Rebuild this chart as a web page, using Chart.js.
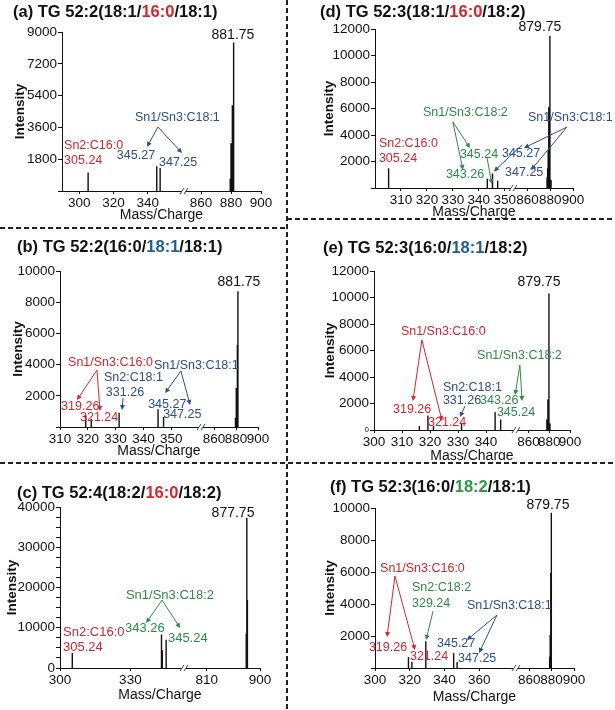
<!DOCTYPE html>
<html>
<head>
<meta charset="utf-8">
<script src="https://cdn.jsdelivr.net/npm/chart.js@4.4.0/dist/chart.umd.min.js"></script>
<style>
  body { margin: 0; background: #fff; width: 615px; height: 710px; position: relative; overflow: hidden;
         font-family: "Liberation Sans", Arial, sans-serif; }
  canvas { position: absolute; }
  .ttl { position: absolute; font-weight: bold; font-size: 16.5px; line-height: 20px; white-space: nowrap; color: #111; }
  .red { color: #e0202a; } .blue { color: #1f5a9e; } .green { color: #2a9a3c; }
</style>
</head>
<body>
<canvas id="sep" width="615" height="710" style="left:0;top:0"></canvas>
<canvas id="cA"></canvas><canvas id="cD"></canvas>
<canvas id="cB"></canvas><canvas id="cE"></canvas>
<canvas id="cC"></canvas><canvas id="cF"></canvas>
<div class="ttl" style="left:13px;top:1px">(a) TG 52:2(18:1/<span class="red">16:0</span>/18:1)</div>
<div class="ttl" style="left:320px;top:1px">(d) TG 52:3(18:1/<span class="red">16:0</span>/18:2)</div>
<div class="ttl" style="left:17px;top:236px">(b) TG 52:2(16:0/<span class="blue">18:1</span>/18:1)</div>
<div class="ttl" style="left:323px;top:237px">(e) TG 52:3(16:0/<span class="blue">18:1</span>/18:2)</div>
<div class="ttl" style="left:17px;top:482px">(c) TG 52:4(18:2/<span class="red">16:0</span>/18:2)</div>
<div class="ttl" style="left:330px;top:476px">(f) TG 52:3(16:0/<span class="green">18:2</span>/18:1)</div>
<script>
const FONT = '"Liberation Sans", Arial, sans-serif';
const R = '#d9232d', B = '#2c4f8f', G = '#2e8b45', K = '#111';

// peaks (m/z, intensity) and x tick labels
const mzA = [305.24, 345.27, 347.25, 879.5, 880.0, 880.9, 881.75];
const intA = [1050, 1400, 1300, 700, 2700, 4850, 8400];
const ticksA = [300, 320, 340, 860, 880, 900];

const mzD = [305.24, 343.26, 345.24, 345.27, 347.25, 877.25, 877.75, 878.25, 878.75, 879.75, 880.75];
const intD = [1500, 700, 1100, 1000, 550, 800, 1500, 2800, 6100, 11500, 600];
const ticksD = [310, 320, 330, 340, 350, 860, 880, 900];

const mzB = [319.26, 321.24, 331.26, 345.27, 347.25, 879.5, 880.25, 881.25, 881.75];
const intB = [750, 530, 920, 1130, 640, 600, 2500, 5260, 8700];
const ticksB = [310, 320, 330, 340, 350, 860, 880, 900];

const mzE = [316.2, 319.26, 321.24, 331.26, 343.26, 345.24, 877.75, 878.75, 879.25, 879.75, 880.75];
const intE = [300, 1100, 300, 450, 1360, 800, 800, 2300, 2000, 10300, 500];
const ticksE = [300, 310, 320, 330, 340, 860, 880, 900];

const mzC = [305.24, 343.26, 343.6, 345.24, 876.75, 877.75, 878.75];
const intC = [3700, 8300, 4400, 7000, 8500, 37300, 16900];
const ticksC = [300, 330, 810, 900];

const mzF = [319.26, 321.24, 329.24, 345.27, 347.25, 878.25, 878.75, 879.25, 879.75];
const intF = [690, 375, 1670, 940, 375, 700, 2060, 5940, 9700];
const ticksF = [300, 320, 340, 360, 860, 880, 900];

// annotations: [text, m/z, intensity, colour, mode]
const notesA = [['Sn2:C16:0', 291.2, 2600, R], ['305.24', 291.2, 1700, R], ['Sn1/Sn3:C18:1', 332.6, 4130, B],
  ['345.27', 322, 1980, B], ['347.25', 346.6, 1585, B], ['881.75', 881.3, 8830, K, 'c']];
const arrowsA = [[346, 3620, 339.6, 2500, B], [346, 3620, 360, 2150, B]];

const notesD = [['Sn2:C16:0', 301.5, 3320, R], ['305.24', 301.5, 2190, R], ['Sn1/Sn3:C18:2', 318.5, 5660, G],
  ['345.24', 332.7, 2490, G], ['343.26', 327.3, 980, G], ['345.27', 348.9, 2570, B], ['347.25', 350.1, 1130, B],
  ['Sn1/Sn3:C18:1', 860.5, 5285, B], ['879.75', 871, 12150, K, 'c']];
const arrowsD = [[330, 4980, 336.6, 3020, G], [330, 4980, 333.9, 1360, G], [343.1, 2340, 345.0, 300, G],
  [356.6, 3250, 345.8, 1250, B], [894.7, 4600, 857, 3020, B], [894.7, 4600, 863.2, 1360, B]];

const notesB = [['Sn1/Sn3:C16:0', 312.9, 4100, R], ['319.26', 310.4, 1280, R], ['321.24', 317.2, 580, R],
  ['Sn2:C18:1', 325.8, 3200, B], ['331.26', 326.5, 2240, B], ['Sn1/Sn3:C18:1', 343.8, 3970, B],
  ['345.27', 341.7, 1470, B], ['347.25', 347.1, 770, B], ['881.75', 882.7, 9300, K, 'c']];
const arrowsB = [[323.3, 3650, 316.1, 1730, R], [323.3, 3650, 324.4, 1030, R], [332.7, 1860, 332.3, 1090, B],
  [353.5, 3590, 347.8, 2180, B], [353.5, 3590, 356.8, 1410, B]];

const notesE = [['Sn1/Sn3:C16:0', 309.6, 7400, R], ['319.26', 306.8, 1510, R], ['321.24', 319.3, 600, R],
  ['Sn2:C18:1', 324.6, 3170, B], ['331.26', 324.6, 2190, B], ['Sn1/Sn3:C18:2', 336.8, 5590, G],
  ['343.26', 337.9, 2190, G], ['345.24', 343.9, 1280, G], ['879.75', 870.2, 11170, K, 'c']];
const arrowsE = [[317.1, 6800, 313.9, 2190, R], [317.1, 6800, 324.3, 680, R], [332.5, 1810, 330.7, 980, B],
  [352.1, 4900, 350.4, 2640, G], [352.1, 4900, 352.9, 2190, G]];

const notesC = [['Sn2:C16:0', 301.3, 8940, R], ['305.24', 301.3, 5220, R], ['Sn1/Sn3:C18:2', 328.1, 18130, G],
  ['343.26', 327.7, 9935, G], ['345.24', 346, 7450, G], ['877.75', 854.4, 38500, K, 'c']];
const arrowsC = [[343.5, 16890, 336.7, 11180, G], [343.5, 16890, 351.2, 9935, G]];

const notesF = [['Sn1/Sn3:C16:0', 302.9, 6190, R], ['319.26', 296.5, 1250, R], ['321.24', 320.1, 690, R],
  ['Sn2:C18:2', 321.3, 5000, G], ['329.24', 321.3, 4000, G], ['Sn1/Sn3:C18:1', 352.9, 3875, B],
  ['345.27', 335.7, 1500, B], ['347.25', 347.8, 560, B], ['879.75', 876.8, 10190, K, 'c']];
const arrowsF = [[311.5, 5750, 306.9, 1940, R], [311.5, 5750, 323, 1125, R], [333.4, 3560, 329.4, 1750, G],
  [370.2, 3310, 352.9, 1750, B], [370.2, 3310, 359.9, 940, B]];

// layout of each panel: canvas box [left, top, w, h], plot area [l, t, r, b], broken-axis segments [min, max, width]
const panels = [
  { id: 'cA', box: [0, 16, 287, 212], area: [62, 32, 261, 191], yTitleX: 20, xTitleY: 215,
    segs: [[290, 360, 120], [850, 900, 75]], gap: 4, mz: mzA, int: intA, ticks: ticksA,
    ymax: 9000, ystep: 1800, notes: notesA, arrows: arrowsA },
  { id: 'cD', box: [288, 16, 327, 210], area: [375, 29, 573, 188], yTitleX: 329, xTitleY: 212,
    segs: [[300, 352, 135], [850, 900, 57]], gap: 6, mz: mzD, int: intD, ticks: ticksD,
    ymax: 12000, ystep: 2000, notes: notesD, arrows: arrowsD },
  { id: 'cB', box: [0, 232, 287, 228], area: [60, 271, 258, 427], yTitleX: 18, xTitleY: 451,
    segs: [[310, 360, 139], [850, 900, 55]], gap: 4, mz: mzB, int: intB, ticks: ticksB,
    ymax: 10000, ystep: 2000, notes: notesB, arrows: arrowsB },
  { id: 'cE', box: [288, 232, 327, 228], area: [374, 271, 570, 430], yTitleX: 330, xTitleY: 456,
    segs: [[300, 350, 140], [850, 900, 52]], gap: 4, mz: mzE, int: intE, ticks: ticksE,
    ymax: 12000, ystep: 2000, zero: 'small', notes: notesE, arrows: arrowsE },
  { id: 'cC', box: [0, 467, 287, 243], area: [60, 507, 260, 668], yTitleX: 12, xTitleY: 695,
    segs: [[300, 352, 122], [775, 900, 74]], gap: 4, mz: mzC, int: intC, ticks: ticksC,
    ymax: 40000, ystep: 2500, ylabelEvery: 10000, zero: 'normal', noteSize: 13, notes: notesC, arrows: arrowsC },
  { id: 'cF', box: [288, 467, 327, 243], area: [375, 508, 574, 668], yTitleX: 330, xTitleY: 697,
    segs: [[300, 380, 139], [850, 900, 56]], gap: 4, mz: mzF, int: intF, ticks: ticksF,
    ymax: 10000, ystep: 2000, notes: notesF, arrows: arrowsF }
];

// dotted separators between panels
const sep = document.getElementById('sep').getContext('2d');
sep.strokeStyle = '#222';
sep.lineWidth = 2;
sep.setLineDash([5, 3]);
[[287, 0, 287, 710], [0, 228, 287, 228], [287, 219, 615, 219], [0, 463, 615, 463]].forEach(([x1, y1, x2, y2]) => {
  sep.beginPath(); sep.moveTo(x1, y1); sep.lineTo(x2, y2); sep.stroke();
});

function notesPlugin(p, toU) {
  return {
    id: 'notes' + p.id,
    afterDraw(chart) {
      const { ctx, chartArea, scales: { x, y } } = chart;
      const px = v => x.getPixelForValue(toU(v));
      ctx.save();
      // axis break "//"
      const xb = x.getPixelForValue(p.segs[0][2] + p.gap / 2);
      const yb = chartArea.bottom;
      ctx.fillStyle = '#fff';
      ctx.fillRect(xb - 2, yb - 1, 4, 2);
      ctx.strokeStyle = '#444';
      ctx.lineWidth = 1;
      [-2, 2].forEach(d => {
        ctx.beginPath(); ctx.moveTo(xb + d - 2, yb + 3); ctx.lineTo(xb + d + 2, yb - 3); ctx.stroke();
      });
      // arrows
      p.arrows.forEach(([m1, i1, m2, i2, c]) => {
        const x1 = px(m1), y1 = y.getPixelForValue(i1), x2 = px(m2), y2 = y.getPixelForValue(i2);
        const a = Math.atan2(y2 - y1, x2 - x1);
        ctx.strokeStyle = c; ctx.fillStyle = c; ctx.lineWidth = 1;
        ctx.beginPath(); ctx.moveTo(x1, y1); ctx.lineTo(x2 - 3 * Math.cos(a), y2 - 3 * Math.sin(a)); ctx.stroke();
        ctx.beginPath();
        ctx.moveTo(x2, y2);
        ctx.lineTo(x2 - 5 * Math.cos(a) + 2.5 * Math.sin(a), y2 - 5 * Math.sin(a) - 2.5 * Math.cos(a));
        ctx.lineTo(x2 - 5 * Math.cos(a) - 2.5 * Math.sin(a), y2 - 5 * Math.sin(a) + 2.5 * Math.cos(a));
        ctx.closePath(); ctx.fill();
      });
      // text labels
      p.notes.forEach(([t, m, v, c, mode]) => {
        ctx.fillStyle = c;
        ctx.textBaseline = 'middle';
        if (mode === 'c') {
          ctx.font = '14px ' + FONT;
          ctx.textAlign = 'center';
        } else {
          ctx.font = (p.noteSize || 12.5) + 'px ' + FONT;
          ctx.textAlign = 'left';
        }
        ctx.fillText(t, px(m), y.getPixelForValue(v));
      });
      ctx.restore();
    }
  };
}

panels.forEach(p => {
  const [L, T, W, H] = p.box;
  const [l, t, r, b] = p.area;
  const cv = document.getElementById(p.id);
  cv.width = W; cv.height = H;
  cv.style.left = L + 'px'; cv.style.top = T + 'px';

  const segs = p.segs;
  const toU = v => {
    const i = v > (segs[0][1] + segs[1][0]) / 2 ? 1 : 0;
    const off = i === 0 ? 0 : segs[0][2] + p.gap;
    const s = segs[i];
    return off + (v - s[0]) / (s[1] - s[0]) * s[2];
  };
  const total = segs[0][2] + p.gap + segs[1][2];

  const pts = [];
  p.mz.forEach((m, i) => {
    const u = toU(m);
    pts.push({ x: u, y: 0 }, { x: u, y: p.int[i] }, { x: u, y: null });
  });

  const yTitleSize = 13.5, xTitleSize = 14;

  new Chart(cv.getContext('2d'), {
    type: 'line',
    data: {
      datasets: [{
        data: pts,
        borderColor: '#111',
        borderWidth: 1.4,
        pointRadius: 0,
        spanGaps: false,
        tension: 0
      }]
    },
    options: {
      responsive: false,
      animation: false,
      layout: { padding: { left: 0, top: t - T, right: L + W - r, bottom: 0 } },
      plugins: { legend: { display: false }, tooltip: { enabled: false } },
      scales: {
        x: {
          type: 'linear',
          min: 0,
          max: total,
          afterFit: s => { s.height = T + H - b; },
          afterBuildTicks: axis => { axis.ticks = p.ticks.map(v => ({ value: toU(v) })); },
          ticks: {
            autoSkip: false,
            maxRotation: 0,
            padding: 1,
            color: '#111',
            font: { size: 13.5, family: FONT },
            callback: (val, i) => String(p.ticks[i])
          },
          grid: { drawOnChartArea: false, drawTicks: true, tickLength: 3, color: '#111' },
          border: { color: '#111', width: 1 },
          title: {
            display: true,
            text: 'Mass/Charge',
            color: '#111',
            font: { size: xTitleSize, family: FONT },
            padding: { top: 0, bottom: T + H - p.xTitleY - xTitleSize * 0.6 }
          }
        },
        y: {
          min: 0,
          max: p.ymax,
          afterFit: s => { s.width = l - L; },
          ticks: {
            stepSize: p.ystep,
            autoSkip: false,
            padding: 1,
            color: '#111',
            font: ctx => ({ size: (ctx.tick && ctx.tick.value === 0 && p.zero === 'small') ? 8 : 13.5, family: FONT }),
            callback: v => {
              if (v === 0) return p.zero ? '0' : '';
              if (p.ylabelEvery && v % p.ylabelEvery !== 0) return '';
              return String(v);
            }
          },
          grid: { drawOnChartArea: false, drawTicks: true, tickLength: 4, color: '#111' },
          border: { color: '#111', width: 1 },
          title: {
            display: true,
            text: 'Intensity',
            color: '#111',
            font: { size: yTitleSize, weight: 'bold', family: FONT },
            padding: { top: p.yTitleX - L - yTitleSize * 0.6, bottom: 0 }
          }
        }
      }
    },
    plugins: [notesPlugin(p, toU)]
  });
});
</script>
</body>
</html>
